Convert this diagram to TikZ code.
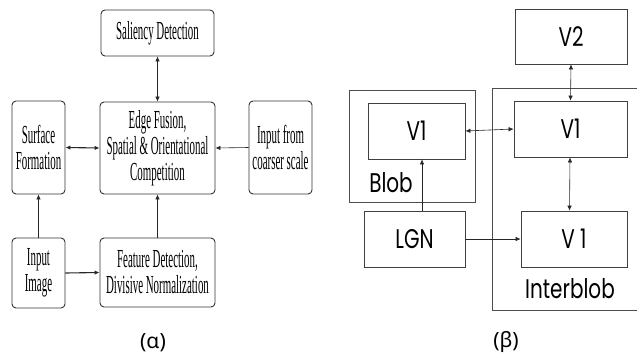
\documentclass[tikz,border=0pt]{standalone}
\usepackage{fontspec}
\setmainfont{Liberation Serif}
\newfontfamily\condserif[FakeStretch=0.42]{Liberation Serif}
\newfontfamily\geosans[FakeStretch=0.74]{Poppins}
\newfontfamily\capfont{Noto Sans}
\usetikzlibrary{arrows.meta}
\begin{document}
\begin{tikzpicture}[x=1pt,y=-1pt,
  lbox/.style={draw=black!80, line width=0.9pt, rounded corners=4pt, align=center,
    font=\condserif\fontsize{26}{26}\selectfont, inner sep=0pt},
  rbox/.style={draw=black!75, line width=0.8pt, inner sep=0pt,
    font=\geosans\fontsize{27}{28}\selectfont},
  lbl/.style={inner sep=0pt, font=\geosans\fontsize{27}{28}\selectfont},
  captxt/.style={inner sep=0pt, font=\capfont\fontsize{21}{22}\selectfont},
  mytip/.tip={Latex[length=5pt,width=4.5pt]},
  arr/.style={-mytip, line width=0.6pt, draw=black!85},
  darr/.style={mytip-mytip, line width=0.6pt, draw=black!85},
  tharr/.style={-mytip, line width=1.1pt, draw=black!85},
  thdarr/.style={mytip-mytip, line width=1.1pt, draw=black!85}]
\useasboundingbox (0,0) rectangle (637,356);

% ---------- left panel (alpha) ----------
\node[lbox, minimum width=113pt, minimum height=46pt] (sal) at (157.5,33) {Saliency Detection};
\node[lbox, minimum width=53pt, minimum height=93pt] (surf) at (38.5,147.5) {Surface\\Formation};
\node[lbox, minimum width=115pt, minimum height=92pt] (edge) at (157.5,148) {Edge Fusion,\\Spatial \& Orientational\\Competition};
\node[lbox, minimum width=63pt, minimum height=93pt] (coarse) at (280.5,147.5) {Input from\\coarser scale};
\node[lbox, minimum width=53pt, minimum height=70pt] (inimg) at (38.5,273) {Input\\Image};
\node[lbox, minimum width=115pt, minimum height=69pt] (feat) at (157.5,272.5) {Feature Detection,\\Divisive Normalization};
\node[captxt] (capa) at (153,343) {(α)};

\draw[darr] (sal.south) -- (edge.north);
\draw[thdarr] (surf.east) -- (edge.west);
\draw[arr] (coarse.west) -- (edge.east);
\draw[arr] (inimg.north) -- (surf.south);
\draw[arr] (feat.north) -- (edge.south);
\draw[tharr] (inimg.east) -- (feat.west);

% ---------- right panel (beta) ----------
\draw[draw=black!70, line width=0.8pt] (349,90) rectangle (475,202);
\coordinate (ibtr) at (637.5,88);
\coordinate (ibbr) at (637.5,310);
\draw[draw=black!70, line width=0.8pt] (ibtr) -- (492,88) -- (492,310) -- (ibbr);

\node[rbox, minimum width=112pt, minimum height=55pt] (v2) at (571,36.5) {V2};
\node[rbox, minimum width=97pt, minimum height=56pt] (v1b) at (416.5,131) {V1};
\node[rbox, minimum width=113pt, minimum height=56pt] (v1i) at (570.5,129) {V1};
\node[rbox, minimum width=101pt, minimum height=56pt] (lgn) at (414.5,239) {LGN};
\node[rbox, minimum width=106pt, minimum height=56pt] (v1l) at (574,239) {V 1};
\node[lbl] (blob) at (391,183) {Blob};
\node[lbl] (interblob) at (570,289) {Interblob};
\node[captxt] (capb) at (506,342) {(β)};

\draw[darr] (v2.south) -- (v1i.north);
\draw[darr] (v1b.east) -- (v1i.west);
\draw[darr] ([xshift=-0.5pt]v1i.south) -- ([xshift=-4.5pt]v1l.north);
\draw[arr] ([xshift=7.5pt]lgn.north) -- ([xshift=7.5pt]lgn.north |- v1b.south);
\draw[arr] (lgn.east) -- (v1l.west);
\end{tikzpicture}
\end{document}
